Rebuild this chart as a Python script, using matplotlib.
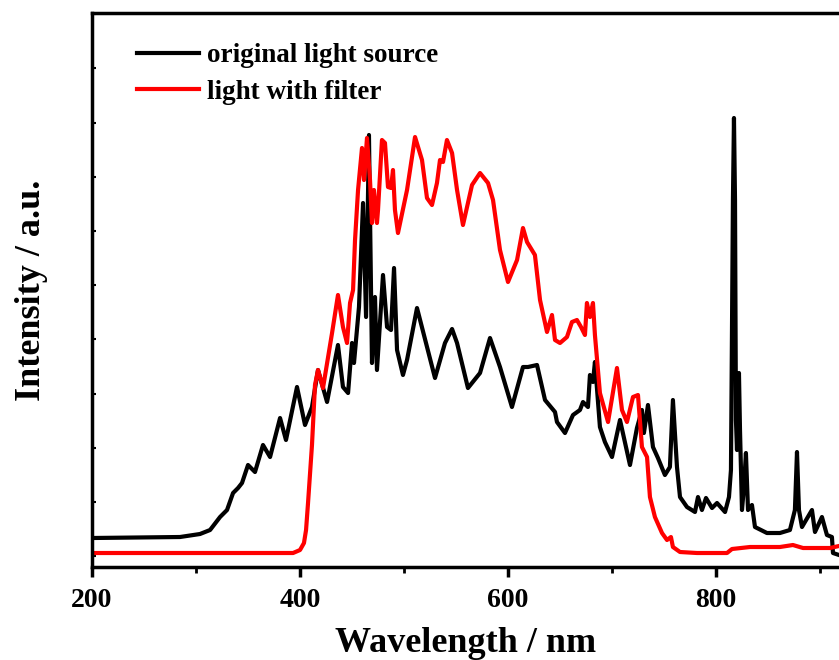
import numpy as np
import matplotlib.pyplot as plt
from matplotlib.ticker import MultipleLocator

# spectra (wavelength in nm, intensity in a.u.)
wl_src = [200, 284.6, 303.8, 313.5, 323.1, 329.8, 335.6, 340.4, 344.2, 350.0,
          356.7, 364.4, 371.2, 380.8, 386.5, 397.1, 404.8, 411.5, 417.3, 426.0,
          436.5, 441.3, 446.2, 450.0, 451.9, 456.7, 460.6, 463.5, 466.3, 469.2,
          472.1, 474.0, 479.8, 483.7, 487.5, 490.4, 493.3, 499.0, 502.9, 512.5,
          529.8, 539.4, 546.2, 551.0, 561.5, 573.1, 582.7, 592.3, 603.8, 614.4,
          619.2, 627.9, 635.6, 645.2, 647.1, 654.8, 662.5, 669.2, 672.1, 676.9,
          678.8, 681.7, 683.6, 688.4, 693.2, 700.0, 707.7, 717.3, 724.0, 728.8,
          730.7, 734.6, 739.4, 744.2, 750.9, 755.7, 758.6, 762.5, 765.4, 772.1,
          779.8, 782.7, 786.5, 790.4, 796.2, 801.0, 808.7, 812.5, 814.4, 816.3,
          817.3, 818.3, 819.2, 820.2, 821.2, 822.1, 823.1, 825.0, 826.9, 828.8,
          830.8, 834.6, 837.5, 849.0, 861.5, 871.1, 875.9, 877.9, 879.8, 882.7,
          892.3, 895.2, 901.9, 906.7, 911.5, 912.5, 918.3]
i_src = [29, 30, 33, 37, 50, 57, 74, 79, 84, 102,
         95, 122, 110, 149, 127, 180, 142, 160, 197, 165,
         222, 180, 174, 224, 204, 260, 364, 250, 432, 204,
         270, 197, 292, 240, 237, 299, 217, 192, 207, 259,
         189, 224, 238, 224, 179, 194, 229, 200, 160, 200,
         200, 202, 167, 155, 145, 134, 152, 157, 165, 160,
         192, 185, 205, 140, 125, 110, 147, 102, 139, 157,
         134, 162, 120, 109, 92, 100, 167, 100, 70, 60,
         55, 70, 57, 69, 59, 64, 55, 70, 97, 367,
         449, 367, 147, 117, 167, 194, 137, 57, 80, 114,
         57, 62, 40, 34, 34, 37, 57, 115, 57, 40,
         57, 35, 50, 32, 30, 14, 12]

wl_flt = [200, 284.6, 390.4, 393.3, 400.0, 403.8, 405.8, 407.7, 411.5, 414.4,
          417.3, 422.1, 430.8, 436.5, 441.3, 445.2, 448.1, 451.0, 452.9, 455.8,
          459.6, 461.5, 464.4, 467.3, 469.2, 471.1, 474.0, 475.0, 478.8, 481.7,
          484.6, 487.5, 489.4, 491.3, 494.2, 502.9, 510.6, 517.3, 522.1, 526.9,
          531.7, 534.6, 537.5, 541.3, 546.2, 551.0, 556.7, 565.4, 573.1, 580.8,
          585.6, 592.3, 600.0, 608.7, 614.4, 618.3, 625.9, 630.8, 637.5, 642.3,
          645.2, 650.0, 656.7, 661.5, 666.3, 670.2, 674.0, 675.9, 678.8, 681.7,
          683.6, 688.4, 696.2, 704.8, 709.6, 714.4, 720.2, 725.0, 728.8, 733.7,
          736.5, 741.3, 748.1, 752.9, 756.7, 758.6, 765.4, 781.7, 810.6, 815.4,
          832.7, 861.5, 874.0, 883.7, 909.6, 918.3]
i_flt = [14, 14, 14, 14, 17, 24, 37, 64, 122, 182,
         197, 179, 234, 272, 240, 224, 264, 277, 327, 377,
         419, 387, 429, 387, 344, 377, 344, 357, 427, 424,
         380, 379, 397, 357, 334, 377, 430, 407, 369, 362,
         384, 407, 405, 427, 414, 377, 342, 382, 394, 384,
         367, 317, 285, 307, 339, 325, 312, 267, 235, 252,
         227, 224, 230, 245, 247, 240, 232, 264, 250, 264,
         232, 174, 145, 199, 157, 145, 170, 172, 120, 110,
         70, 50, 34, 27, 30, 20, 15, 14, 14, 18,
         20, 20, 22, 19, 19, 21]

plt.rcParams['font.family'] = ['Liberation Serif', 'DejaVu Serif']
plt.rcParams['font.weight'] = 'bold'

fig = plt.figure(figsize=(8.39, 6.60), dpi=100)
ax = fig.add_axes([0.1097, 0.1409, 0.8903, 0.8394])

ax.plot(wl_src, i_src, color='black', lw=3, label='original light source',
        solid_joinstyle='round')
ax.plot(wl_flt, i_flt, color='red', lw=3, label='light with filter',
        solid_joinstyle='round')

ax.set_xlim(200, 918.3)
ax.set_ylim(0, 554)
ax.xaxis.set_major_locator(MultipleLocator(200))
ax.xaxis.set_minor_locator(MultipleLocator(100))
ax.yaxis.set_major_locator(MultipleLocator(54.2, offset=10.8))
ax.set_yticklabels([])

ax.tick_params(axis='x', which='major', direction='out', length=7, width=2.5,
               labelsize=20, pad=8)
ax.tick_params(axis='x', which='minor', direction='out', length=4, width=2)
ax.tick_params(axis='y', which='major', direction='in', length=3, width=1.5)
for lab in ax.get_xticklabels():
    lab.set_fontweight('bold')

for s in ['left', 'bottom', 'top']:
    ax.spines[s].set_linewidth(2.5)
ax.spines['right'].set_visible(False)

ax.set_xlabel('Wavelength / nm', fontsize=26, fontweight='bold', labelpad=10)
ax.set_ylabel('Intensity / a.u.', fontsize=26, fontweight='bold', labelpad=28)

leg = ax.legend(loc='upper left', bbox_to_anchor=(0.06, 0.945), frameon=False,
                fontsize=19.5, handlelength=2.3, handletextpad=0.3,
                labelspacing=0.42, borderpad=0, borderaxespad=0)
for t in leg.get_texts():
    t.set_fontweight('bold')

fig.savefig('out.png', dpi=100)
